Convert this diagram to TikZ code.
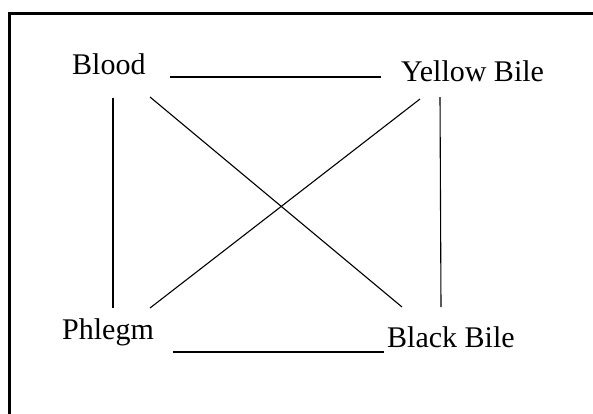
\documentclass[tikz,border=0pt]{standalone}
\usepackage{fontspec}
\setmainfont{Liberation Serif}
\begin{document}
\begin{tikzpicture}[x=1pt,y=-1pt,
  lbl/.style={anchor=base west,inner sep=0pt,font=\fontsize{30}{34}\selectfont},
  link/.style={line width=1.1pt,black}]
\useasboundingbox (0,0) rectangle (593,413);
\draw[line width=2.2pt] (9.5,430) -- (9.5,13.5) -- (610,13.5);
\node[lbl] (blood) at (72,74) {Blood};
\node[lbl] (yellow) at (401,81) {Yellow Bile};
\node[lbl] (phlegm) at (62,339) {Phlegm};
\node[lbl] (black) at (387,347) {Black Bile};
\coordinate (t1) at (170,77);  \coordinate (t2) at (381,77);
\coordinate (b1) at (173,352); \coordinate (b2) at (384,352);
\coordinate (l1) at (113,98);  \coordinate (l2) at (113,308);
\coordinate (r1) at (440,97);  \coordinate (r2) at (441,307);
\coordinate (d1a) at (150,97); \coordinate (d1b) at (402,307);
\coordinate (d2a) at (420,99); \coordinate (d2b) at (150,308);
\draw[link] (t1) -- (t2);
\draw[link] (b1) -- (b2);
\draw[link] (l1) -- (l2);
\draw[link] (r1) -- (r2);
\draw[link] (d1a) -- (d1b);
\draw[link] (d2a) -- (d2b);
\end{tikzpicture}
\end{document}
